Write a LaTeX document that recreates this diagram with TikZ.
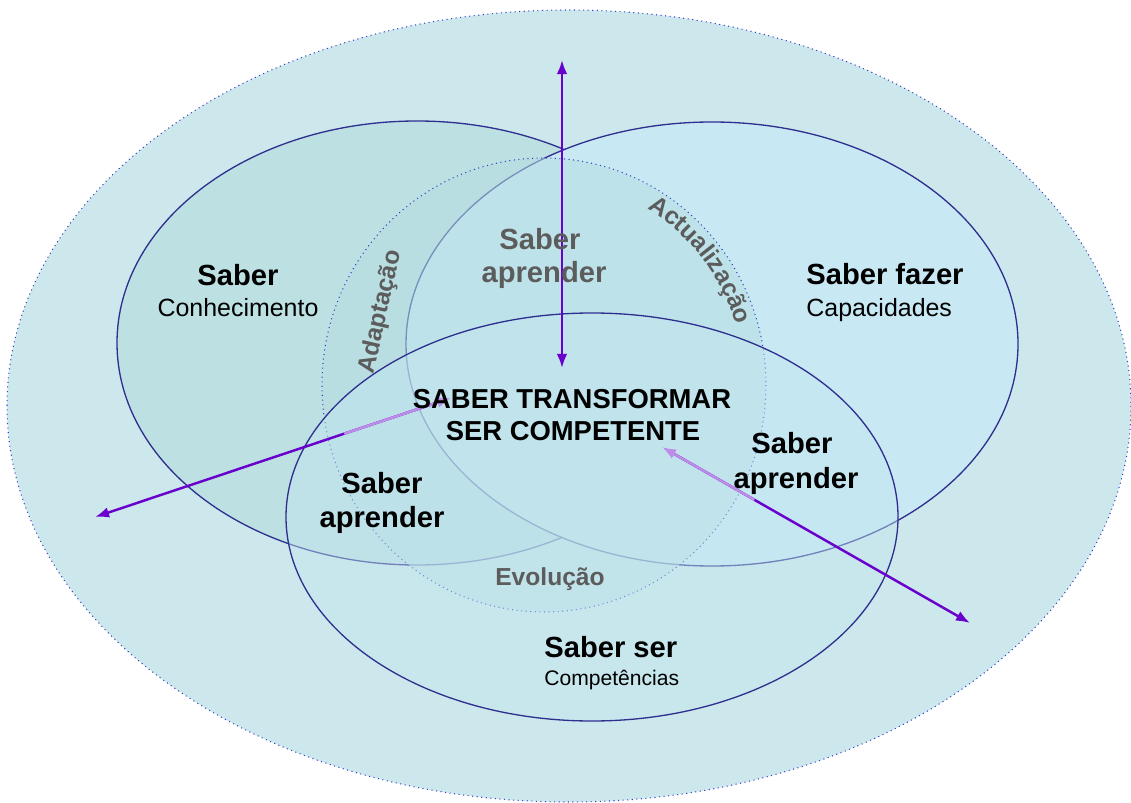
\documentclass[tikz,border=0pt]{standalone}
\usepackage{fontspec}
\setmainfont{Liberation Sans}
\usetikzlibrary{positioning, arrows.meta, calc, decorations.text}

\definecolor{outerfill}{HTML}{CDE8EC}
\definecolor{leftfill}{HTML}{BDE0E3}
\definecolor{rightfill}{HTML}{C8E9F4}
\definecolor{ringfill}{HTML}{B6DDE2}
\definecolor{lowfill}{HTML}{C3E6F0}
\definecolor{rimblue}{HTML}{2E2F8F}
\definecolor{dotblue}{HTML}{3340C8}
\definecolor{arrowviolet}{HTML}{6A00CC}
\definecolor{softgrey}{HTML}{5C5C5C}

\newcommand{\faintfont}{\fontsize{14}{17}\selectfont\bfseries}

\begin{document}
\begin{tikzpicture}[x=0.02cm, y=-0.02cm, inner sep=0pt, node distance={15mm},
    rim/.style = {draw=rimblue, line width=0.75pt},
    ring/.style = {draw=dotblue, dotted, line width=0.6pt},
    big/.style = {font=\fontsize{16.6}{20}\selectfont\bfseries, anchor=base},
    small/.style = {font=\fontsize{14.2}{17}\selectfont, anchor=base},
    tiny/.style = {font=\fontsize{12}{14}\selectfont, anchor=base west},
    faint/.style = {font=\faintfont, text=softgrey},
    caps/.style = {font=\fontsize{15.6}{19}\selectfont\bfseries, anchor=base},
    arr/.style = {draw=arrowviolet, line width=1.4pt, {Latex[length=8pt, width=6pt]}-{Latex[length=8pt, width=6pt]}}]
    \useasboundingbox (0,0) rectangle (1131,803);

    % circles
    \filldraw[fill=outerfill, ring] (569,406) ellipse [x radius=562, y radius=396];
    \filldraw[fill=leftfill, rim] (417,343) ellipse [x radius=300, y radius=222];
    \filldraw[fill=rightfill, rim] (712,344) ellipse [x radius=306, y radius=222];
    \filldraw[fill=ringfill, fill opacity=0.55, ring] (544,385) ellipse [x radius=222, y radius=227];
    \filldraw[fill=lowfill, fill opacity=0.45, rim] (592,517) ellipse [x radius=306, y radius=204];

    % arrows
    \coordinate (up) at (562,60);
    \coordinate (mid) at (562,368);
    \coordinate (west) at (95,517);
    \coordinate (westin) at (451,398);
    \coordinate (east) at (970,623);
    \coordinate (eastin) at (662,447);
    \draw[arr] (up) -- (mid);
    \draw[arr, {Latex[length=8pt, width=6pt, color=arrowviolet!45]}-{Latex[length=8pt, width=6pt]}] (westin) -- (west);
    \draw[arrowviolet!45, line width=1.4pt, shorten <=6pt] (westin) -- ($(westin)!0.3!(west)$);
    \draw[arr, {Latex[length=8pt, width=6pt, color=arrowviolet!45]}-{Latex[length=8pt, width=6pt]}] (eastin) -- (east);
    \draw[arrowviolet!45, line width=1.4pt, shorten <=6pt] (eastin) -- ($(eastin)!0.3!(east)$);

    % labels
    \node[big] (saber) at (238,286) {Saber};
    \node[small] (conhec) at (238,317) {Conhecimento};
    \node[big, anchor=base west] (fazer) at (806,285) {Saber fazer};
    \node[small, anchor=base west] (capac) at (806,317) {Capacidades};
    \node[big, text=softgrey] (topsaber) at (540,250) {Saber};
    \node[big, text=softgrey] (topaprender) at (544,283) {aprender};
    \node[caps] (transf) at (572,408) {SABER TRANSFORMAR};
    \node[caps] (compet) at (573,440) {SER COMPETENTE};
    \node[big] (leftsaber) at (382,493) {Saber};
    \node[big] (leftaprender) at (382,527) {aprender};
    \node[big] (rightsaber) at (792,453) {Saber};
    \node[big] (rightaprender) at (796,488) {aprender};
    \node[faint, anchor=base] (evol) at (550,585) {Evolução};
    \node[big, anchor=base west] (ser) at (544,657) {Saber ser};
    \node[tiny] (competencias) at (544,685) {Competências};
    \node[faint, rotate=77] (adapt) at (381,312) {Adaptação};
    \path[decorate, decoration={text along path, text align=center,
        text color=softgrey, text={|\faintfont|Actualização}}]
        ($(544,385)+(-64:201 and 206)$) arc [start angle=-64, end angle=-12, x radius=201, y radius=206];
\end{tikzpicture}
\end{document}
